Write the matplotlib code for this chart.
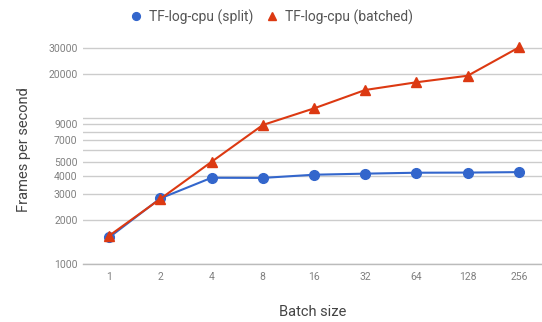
import matplotlib
matplotlib.use("Agg")
import matplotlib.pyplot as plt
from matplotlib.ticker import FixedLocator, NullFormatter, FixedFormatter

plt.rcParams['font.family'] = ['Roboto', 'DejaVu Sans']

batch_sizes = ["1", "2", "4", "8", "16", "32", "64", "128", "256"]
split_fps = [1520, 2810, 3890, 3880, 4080, 4150, 4210, 4220, 4250]
batched_fps = [1560, 2790, 5000, 8930, 11600, 15500, 17500, 19400, 30300]
y_major = [1000, 2000, 3000, 4000, 5000, 7000, 9000, 20000, 30000]
y_minor = [6000, 8000, 10000]

W, H = 542, 322
fig = plt.figure(figsize=(W / 100, H / 100), dpi=100)
ax = fig.add_axes([83 / W, (H - 264) / H, (542 - 83) / W, (264 - 35) / H])

x = list(range(len(batch_sizes)))
ax.plot(x, split_fps, color='#3366CC', marker='o', markersize=7, linewidth=1.5,
        label='TF-log-cpu (split)', zorder=3)
ax.plot(x, batched_fps, color='#DC3912', marker='^', markersize=7.5, linewidth=1.5,
        label='TF-log-cpu (batched)', zorder=4)

ax.set_yscale('log')
ax.set_ylim(1000, 1000 * 10 ** (229 / 146.2))
ax.set_xlim(-0.51, 8.45)

ax.yaxis.set_major_locator(FixedLocator(y_major))
ax.yaxis.set_major_formatter(FixedFormatter([str(v) for v in y_major]))
ax.yaxis.set_minor_locator(FixedLocator(y_minor))
ax.yaxis.set_minor_formatter(NullFormatter())
ax.set_xticks(x)
ax.set_xticklabels(batch_sizes)

ax.grid(True, which='both', axis='y', color='#cccccc', linewidth=1)
ax.set_axisbelow(True)
for s in ['top', 'right', 'left']:
    ax.spines[s].set_visible(False)
ax.spines['bottom'].set_color('#bbbbbb')
ax.spines['bottom'].set_linewidth(1)

ax.tick_params(axis='both', which='both', length=0, labelsize=7.5, colors='#808080')
ax.tick_params(axis='y', pad=4)
ax.tick_params(axis='x', pad=6)

ax.set_xlabel('Batch size', fontsize=10.5, color='#444444', labelpad=16)
ax.set_ylabel('Frames per second', fontsize=10.5, color='#444444', labelpad=12)

fig.legend(loc='upper center', bbox_to_anchor=(0.5, 1.01), ncol=2, frameon=False,
           fontsize=10, handlelength=1.0, columnspacing=0.9, handletextpad=0.4,
           labelcolor='#555555', markerscale=0.8)
for h in fig.legends[0].legend_handles:
    h.set_linestyle('None')

fig.savefig('out.png', dpi=100)
